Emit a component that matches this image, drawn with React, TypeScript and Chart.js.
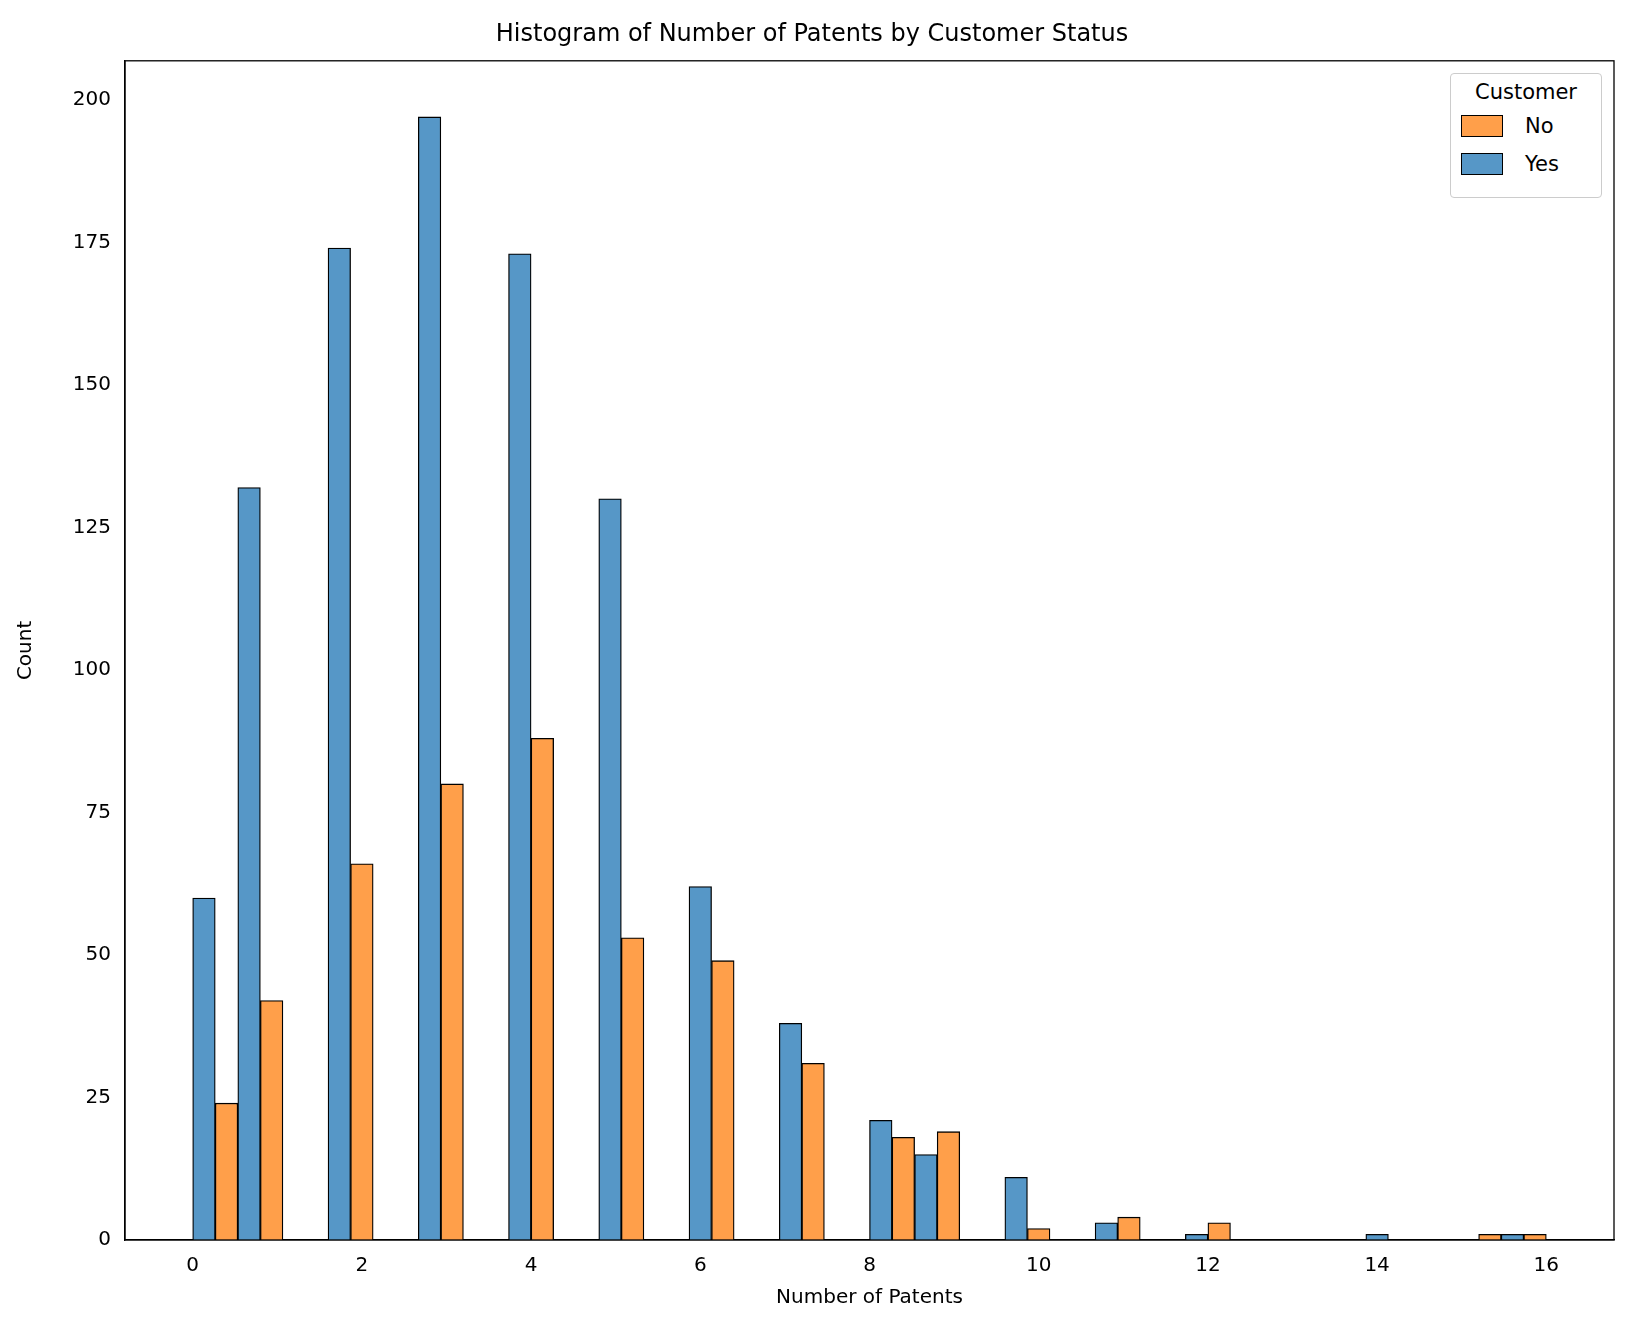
import React, { useEffect, useRef } from 'react';
import { Chart, registerables } from 'chart.js';

Chart.register(...registerables);

// 30 bins of width 16/30 between 0 and 16
const yesCounts = [60, 132, 0, 174, 0, 197, 0, 173, 0, 130, 0, 62, 0, 38, 0, 21, 15, 0, 11, 0, 3, 0, 1, 0, 0, 0, 1, 0, 0, 1];
const noCounts = [24, 42, 0, 66, 0, 80, 0, 88, 0, 53, 0, 49, 0, 31, 0, 18, 19, 0, 2, 0, 4, 0, 3, 0, 0, 0, 0, 0, 1, 1];
const xTicks = [0, 2, 4, 6, 8, 10, 12, 14, 16];
const yTicks = [0, 25, 50, 75, 100, 125, 150, 175, 200];
const PAD = 3; // empty half-bins on each side (matplotlib 5% margin)

const BLUE = 'rgb(86,151,199)';
const ORANGE = 'rgb(255,159,74)';
const FONT = "'DejaVu Sans', sans-serif";

const frame = {
  id: 'frame',
  afterDraw(chart: Chart) {
    const { ctx, chartArea: a } = chart;
    ctx.save();
    ctx.strokeStyle = '#000';
    ctx.lineWidth = 1.3;
    ctx.strokeRect(a.left, a.top, a.right - a.left, a.bottom - a.top);
    ctx.restore();
  },
};

export default function App() {
  const ref = useRef<HTMLCanvasElement>(null);

  useEffect(() => {
    if (!ref.current) return;
    const n = yesCounts.length * 2 + PAD * 2;
    const labels = Array.from({ length: n }, (_, i) => String(i));
    const yes: (number | null)[] = Array(n).fill(null);
    const no: (number | null)[] = Array(n).fill(null);
    yesCounts.forEach((v, i) => { if (v) yes[PAD + i * 2] = v; });
    noCounts.forEach((v, i) => { if (v) no[PAD + i * 2 + 1] = v; });

    const chart = new Chart(ref.current, {
      type: 'bar',
      data: {
        labels,
        datasets: [
          { label: 'Yes', data: yes, backgroundColor: BLUE, borderColor: '#000', borderWidth: 1.3, categoryPercentage: 1, barPercentage: 1 },
          { label: 'No', data: no, backgroundColor: ORANGE, borderColor: '#000', borderWidth: 1.3, categoryPercentage: 1, barPercentage: 1 },
        ],
      },
      plugins: [frame],
      options: {
        animation: false,
        responsive: false,
        layout: { padding: { left: 10, right: 18, top: 0, bottom: 28 } },
        plugins: {
          legend: { display: false },
          tooltip: { enabled: false },
          title: {
            display: true,
            text: 'Histogram of Number of Patents by Customer Status',
            color: '#000',
            font: { family: FONT, size: 24, weight: 'normal' },
            padding: { top: 20, bottom: 12 },
          },
        },
        scales: {
          x: { stacked: true, display: false },
          x2: {
            type: 'linear',
            position: 'bottom',
            offset: false,
            min: -0.8,
            max: 16.8,
            afterBuildTicks: (s: any) => { s.ticks = xTicks.map(v => ({ value: v })); },
            grid: { display: false },
            border: { color: '#000', width: 1.3 },
            ticks: { color: '#000', font: { family: FONT, size: 20 }, padding: 6 },
            title: { display: true, text: 'Number of Patents', color: '#000', font: { family: FONT, size: 20 }, padding: { top: 2 } },
          },
          y: {
            stacked: true,
            min: 0,
            max: 206.85,
            afterBuildTicks: (s: any) => { s.ticks = yTicks.map(v => ({ value: v })); },
            afterFit: (s: any) => { s.width = 115; },
            grid: { display: false },
            border: { color: '#000', width: 1.3 },
            ticks: { color: '#000', font: { family: FONT, size: 20 }, padding: 6 },
            title: { display: true, text: 'Count', color: '#000', font: { family: FONT, size: 20 } },
          },
        },
      } as any,
    });
    return () => chart.destroy();
  }, []);

  const swatch = (c: string) => (
    <span style={{ display: 'inline-block', width: 40, height: 20, background: c, border: '1.3px solid #000', marginRight: 22 }} />
  );

  return (
    <div style={{ position: 'relative', width: 1632, height: 1342, background: '#fff', margin: -8 }}>
      <canvas ref={ref} width={1632} height={1342} />
      <div style={{ position: 'absolute', left: 1450, top: 73, width: 152, height: 125, border: '1px solid #ccc', borderRadius: 4, background: '#fff', fontFamily: FONT, fontSize: 21, color: '#000', boxSizing: 'border-box', padding: '6px 10px' }}>
        <div style={{ textAlign: 'center', marginBottom: 10 }}>Customer</div>
        <div style={{ display: 'flex', alignItems: 'center', marginBottom: 14 }}>{swatch(ORANGE)}No</div>
        <div style={{ display: 'flex', alignItems: 'center' }}>{swatch(BLUE)}Yes</div>
      </div>
    </div>
  );
}
